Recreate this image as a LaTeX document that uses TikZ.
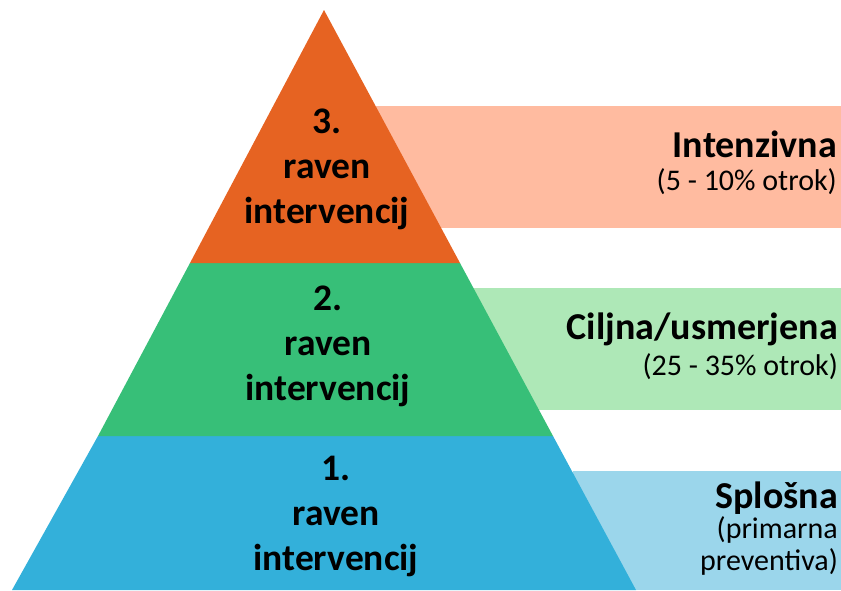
\documentclass[tikz,border=0pt]{standalone}
\usepackage{fontspec}
\setmainfont{Carlito}
\definecolor{orangeL}{HTML}{E66322}
\definecolor{salmon}{HTML}{FFBBA0}
\definecolor{greenL}{HTML}{37BF78}
\definecolor{greenP}{HTML}{AEE8B7}
\definecolor{blueL}{HTML}{33B0DA}
\definecolor{blueP}{HTML}{9BD6EB}
\tikzset{
  lvl/.style={align=center, font=\fontsize{37.5}{45}\selectfont\bfseries, inner sep=0pt},
  big/.style={anchor=base east, inner sep=0pt, font=\fontsize{38}{40}\selectfont\bfseries},
  small/.style={anchor=base east, inner sep=0pt, font=\fontsize{30}{33}\selectfont}
}
\begin{document}
\begin{tikzpicture}[x=1pt,y=-1pt]
\useasboundingbox (0,0) rectangle (841,590);
% side bands
\fill[salmon] (376,106) rectangle (841,228);
\fill[greenP] (473,288) rectangle (841,410);
\fill[blueP] (573,471) rectangle (841,590);
% pyramid
\coordinate (apex) at (324,10);
\fill[blueL] (12,590) -- (98,436) -- (553,436) -- (636,590) -- cycle;
\fill[greenL] (98,436) -- (190,263) -- (460,263) -- (553,436) -- cycle;
\fill[orangeL] (190,263) -- (apex) -- (460,263) -- cycle;
% level texts
\node[lvl] (l3) at (327,169) {3.\\raven\\intervencij};
\node[lvl] (l2) at (328,346) {2.\\raven\\intervencij};
\node[lvl] (l1) at (336,516) {1.\\raven\\intervencij};
% side texts
\node[big] (s3a) at (837,157) {Intenzivna};
\node[small] (s3b) at (837,190) {(5 - 10\% otrok)};
\node[big] (s2a) at (838,339) {Ciljna/usmerjena};
\node[small] (s2b) at (838,375) {(25 - 35\% otrok)};
\node[big] (s1a) at (838,508) {Splošna};
\node[small] (s1b) at (838,538) {(primarna};
\node[small] (s1c) at (838,570) {preventiva)};
\end{tikzpicture}
\end{document}
